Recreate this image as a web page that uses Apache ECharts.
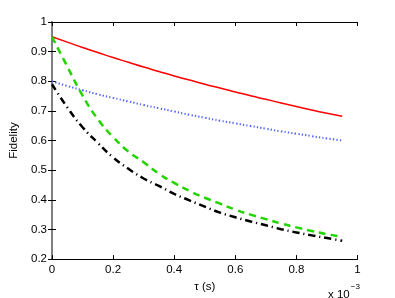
<!DOCTYPE html>
<html><head><meta charset="utf-8">
<script src="https://cdn.jsdelivr.net/npm/echarts@6/dist/echarts.min.js"></script>
<style>html,body{margin:0;padding:0;background:#fff}#c{width:395px;height:298px}</style>
</head><body><div id="c"></div>
<script>
// tau in units of 1e-3 s
var tau = [0, 0.05, 0.1, 0.15, 0.2, 0.25, 0.3, 0.35, 0.4, 0.45, 0.5, 0.55, 0.6, 0.65, 0.7, 0.75, 0.8, 0.85, 0.9, 0.95];
var redSolid   = [0.950, 0.932, 0.914, 0.897, 0.880, 0.864, 0.848, 0.833, 0.818, 0.804, 0.790, 0.777, 0.764, 0.751, 0.739, 0.727, 0.715, 0.703, 0.692, 0.682];
var blueDotted = [0.800, 0.784, 0.770, 0.756, 0.744, 0.732, 0.720, 0.709, 0.698, 0.687, 0.677, 0.667, 0.658, 0.649, 0.640, 0.631, 0.623, 0.615, 0.607, 0.600];
var greenDashed= [0.950, 0.850, 0.752, 0.672, 0.612, 0.563, 0.527, 0.488, 0.457, 0.430, 0.407, 0.387, 0.367, 0.350, 0.335, 0.320, 0.307, 0.295, 0.284, 0.275];
var blackDashDot=[0.790, 0.712, 0.645, 0.592, 0.543, 0.505, 0.472, 0.447, 0.420, 0.398, 0.377, 0.357, 0.341, 0.327, 0.314, 0.301, 0.290, 0.280, 0.271, 0.262];
var xTicks = [0, 0.2, 0.4, 0.6, 0.8, 1];
var yTicks = [0.2, 0.3, 0.4, 0.5, 0.6, 0.7, 0.8, 0.9, 1];
var xLabel = 'τ (s)', yLabel = 'Fidelity';

function pairs(ys){ return tau.map(function(t,i){ return [t, ys[i]]; }); }
var FONT = 'Liberation Sans, Arial, Helvetica, sans-serif';
var FS = 11.5;
var chart = echarts.init(document.getElementById('c'));
var tick = {show:true, inside:true, length:4, lineStyle:{color:'#000', width:1}};
chart.setOption({
  animation:false,
  grid:{left:52, right:37.5, top:22, bottom:37, containLabel:false},
  xAxis:[{
    type:'value', min:0, max:1, interval:0.2, position:'bottom',
    name:xLabel, nameLocation:'middle', nameGap:19,
    nameTextStyle:{fontFamily:FONT, fontSize:FS, color:'#000'},
    axisLine:{lineStyle:{color:'#000', width:1}},
    axisTick:tick, splitLine:{show:false},
    axisLabel:{fontFamily:FONT, fontSize:FS, color:'#000', margin:5,
      formatter:function(v){ var m = xTicks.filter(function(t){return Math.abs(t-v)<1e-9;}); return m.length? String(m[0]) : ''; }}
  },{
    type:'value', min:0, max:1, interval:0.2, position:'top',
    axisLine:{lineStyle:{color:'#000', width:1}}, axisTick:tick, axisLabel:{show:false}, splitLine:{show:false}
  }],
  yAxis:[{
    type:'value', min:0.2, max:1, interval:0.1, position:'left',
    name:yLabel, nameLocation:'middle', nameGap:25, nameRotate:90,
    nameTextStyle:{fontFamily:FONT, fontSize:FS, color:'#000'},
    axisLine:{lineStyle:{color:'#808080', width:2}},
    axisTick:tick, splitLine:{show:false},
    axisLabel:{fontFamily:FONT, fontSize:FS, color:'#000', margin:5,
      formatter:function(v){ var m = yTicks.filter(function(t){return Math.abs(t-v)<1e-9;}); return m.length? String(m[0]) : ''; }}
  },{
    type:'value', min:0.2, max:1, interval:0.1, position:'right',
    axisLine:{lineStyle:{color:'#808080', width:2}}, axisTick:tick, axisLabel:{show:false}, splitLine:{show:false}
  }],
  series:[
    {type:'line', data:pairs(redSolid), showSymbol:false, smooth:true, lineStyle:{color:'#ff0000', width:1.5}},
    {type:'line', data:pairs(blueDotted), showSymbol:false, smooth:true, lineStyle:{color:'#4f5fff', width:2, type:[1.3,2.2]}},
    {type:'line', data:pairs(greenDashed), showSymbol:false, smooth:true, lineStyle:{color:'#22d400', width:2.5, type:[7,5]}},
    {type:'line', data:pairs(blackDashDot), showSymbol:false, smooth:true, lineStyle:{color:'#000', width:2.5, type:[7,4,1.2,4]}}
  ],
  graphic:[{
    type:'text', left:328, top:283,
    style:{text:'{a|x 10}{b|−3}', fill:'#000',
      rich:{a:{fontFamily:FONT, fontSize:FS, verticalAlign:'bottom', padding:[6,0,0,0]},
            b:{fontFamily:FONT, fontSize:8, verticalAlign:'top', padding:[0,0,6,1]}}}
  }]
});
</script></body></html>
